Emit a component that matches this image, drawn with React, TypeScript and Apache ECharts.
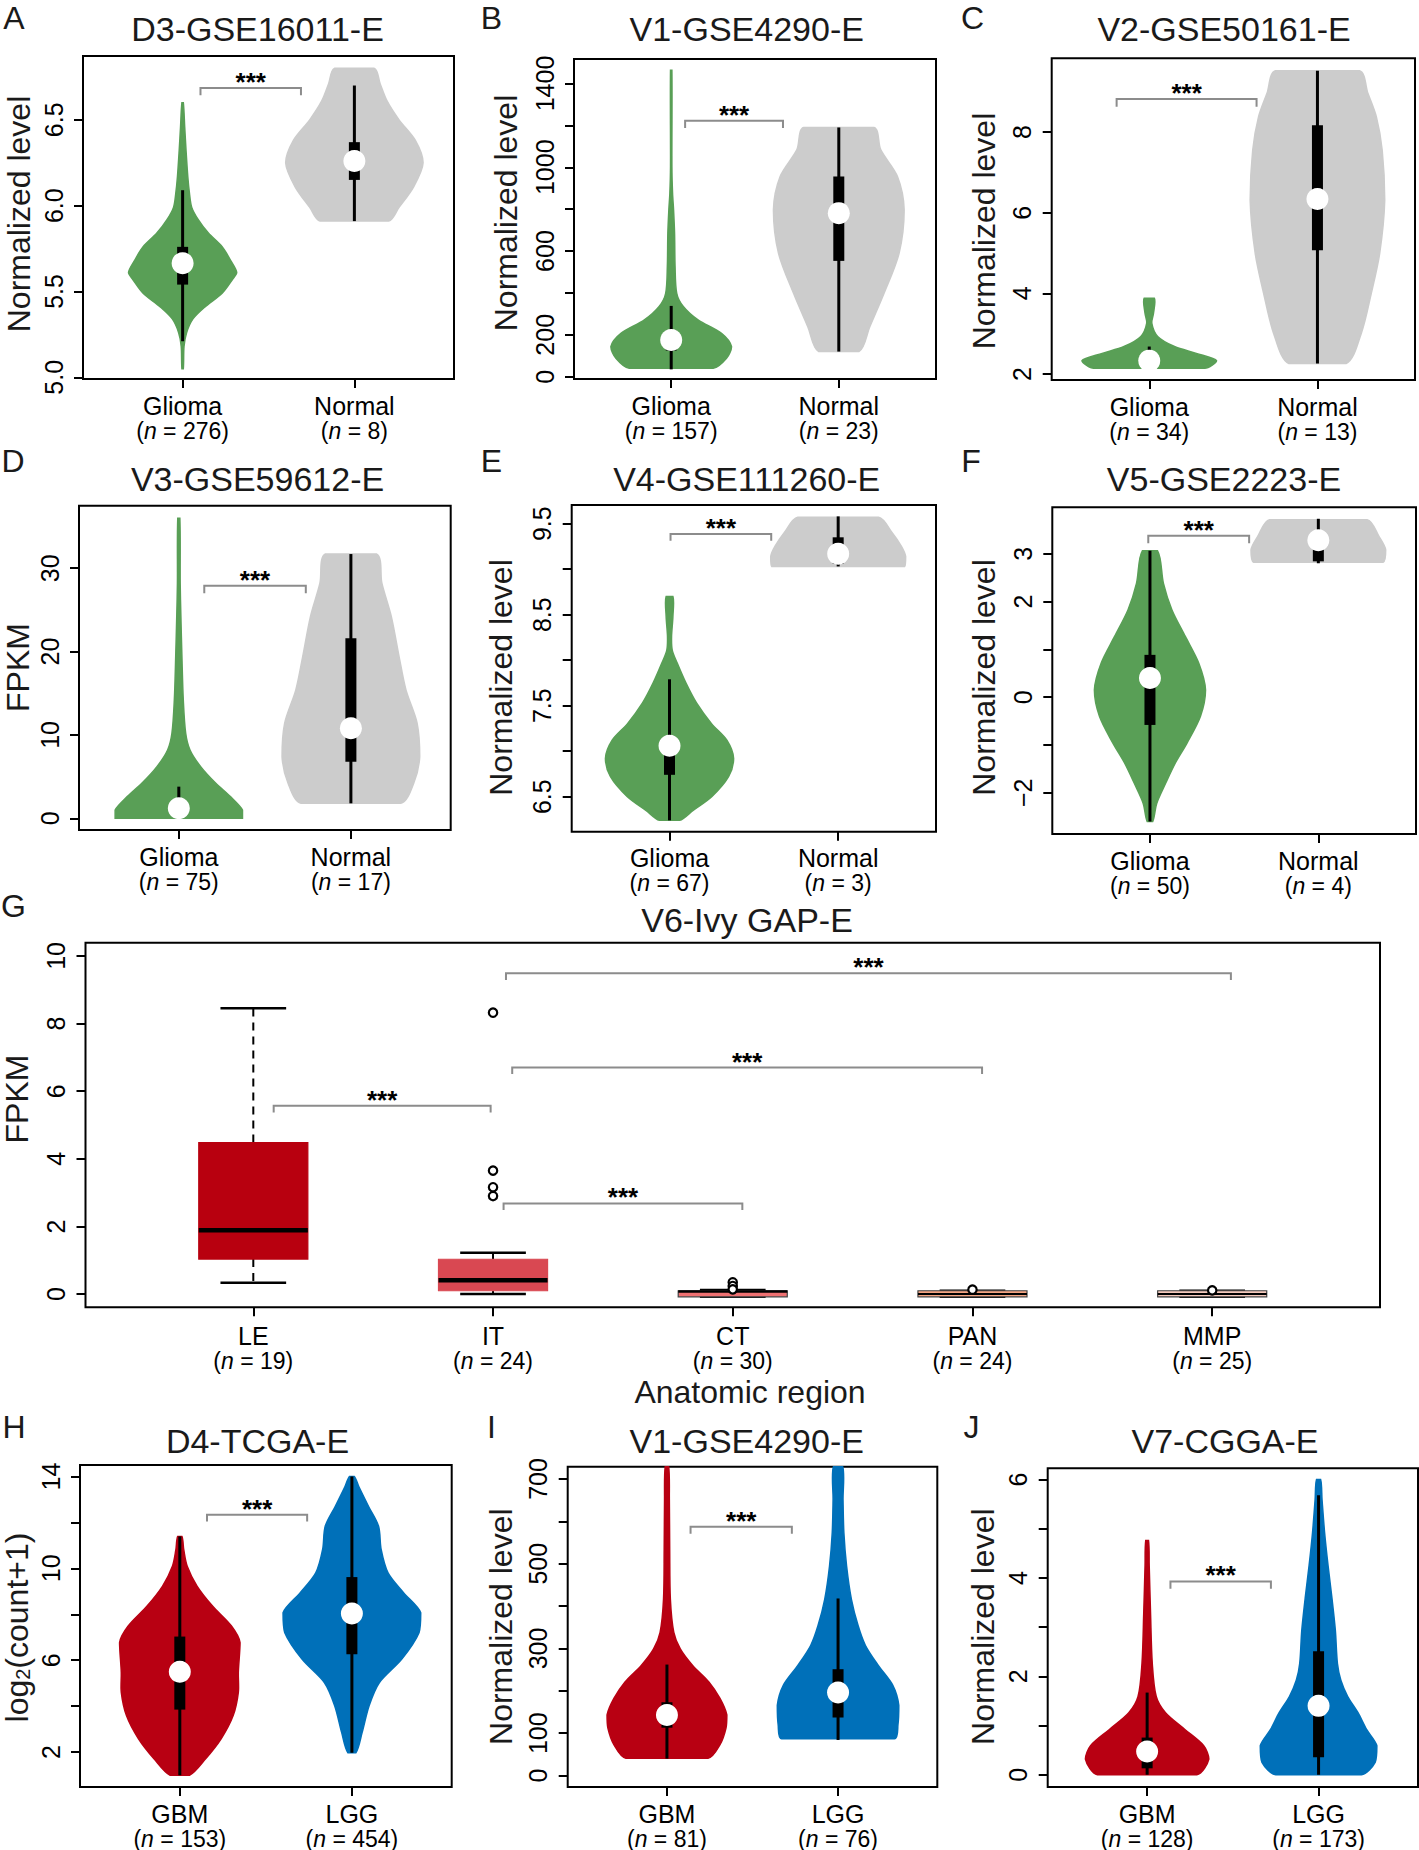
import React, { useEffect, useRef } from "react";
import * as echarts from "echarts";

const FONT = "'Liberation Sans', Arial, Helvetica, sans-serif";

// ---------------- categories ----------------
const gliomaNormal = ["Glioma", "Normal"];
const gbmLgg = ["GBM", "LGG"];
const regionsG = ["LE", "IT", "CT", "PAN", "MMP"];

// ---------------- panel A : D3-GSE16011-E ----------------
const nA = [276, 8];
// violin profiles: [value, half-width in category units]
const violinA_glioma = [[5.05, 0.004], [5.18, 0.008], [5.26, 0.023], [5.34, 0.06], [5.41, 0.13], [5.49, 0.23], [5.57, 0.29], [5.61, 0.315], [5.68, 0.28], [5.76, 0.23], [5.84, 0.15], [5.92, 0.09], [5.99, 0.053], [6.07, 0.04], [6.17, 0.03], [6.32, 0.02], [6.46, 0.012], [6.6, 0.004]];
const violinA_normal = [[5.91, 0.2], [5.99, 0.26], [6.11, 0.345], [6.25, 0.4], [6.38, 0.355], [6.5, 0.26], [6.61, 0.19], [6.71, 0.15], [6.8, 0.116]];
// [whisker low, q1, median, q3, whisker high]
const boxA = [[5.21, 5.54, 5.665, 5.76, 6.09], [5.91, 6.15, 6.26, 6.37, 6.7]];
const sigA = [1.104, 1.689, 6.686, 6.643];
const yRangeA = [4.99, 6.872];
const yTicksA = [5.0, 5.5, 6.0, 6.5];
const yLabelsA = [5.0, 5.5, 6.0, 6.5];

// ---------------- panel B : V1-GSE4290-E ----------------
const nB = [157, 23];
const violinB_glioma = [[40, 0.25], [88, 0.33], [143, 0.36], [207, 0.3], [271, 0.16], [335, 0.072], [398, 0.033], [526, 0.023], [685, 0.02], [797, 0.014], [876, 0.008], [1004, 0.004], [1463, 0.004]];
const violinB_normal = [[120, 0.12], [239, 0.185], [398, 0.27], [590, 0.36], [797, 0.39], [956, 0.35], [1084, 0.25], [1190, 0.21]];
const boxB = [[35, 125, 175, 220, 338], [120, 553, 781, 956, 1190]];
const sigB = [1.083, 1.667, 1222, 1187];
const yRangeB = [-11, 1517];
const yTicksB = [0, 200, 400, 600, 800, 1000, 1200, 1400];
const yLabelsB = [0, 200, 600, 1000, 1400];

// ---------------- panel C : V2-GSE50161-E ----------------
const nC = [34, 13];
const violinC_glioma = [[2.14, 0.33], [2.33, 0.4], [2.51, 0.28], [2.68, 0.15], [2.93, 0.05], [3.26, 0.015], [3.5, 0.025], [3.88, 0.03]];
const violinC_normal = [[2.26, 0.17], [3.0, 0.26], [4.0, 0.32], [4.99, 0.37], [6.31, 0.4], [7.55, 0.385], [8.38, 0.35], [8.96, 0.3], [9.52, 0.25]];
const boxC = [[2.14, 2.22, 2.33, 2.45, 2.68], [2.26, 5.07, 6.34, 8.17, 9.52]];
const sigC = [0.806, 1.638, 8.82, 8.63];
const yRangeC = [1.85, 9.83];
const yTicksC = [2, 4, 6, 8];
const yLabelsC = [2, 4, 6, 8];

// ---------------- panel D : V3-GSE59612-E ----------------
const nD = [75, 17];
const violinD_glioma = [[0, 0.37], [1, 0.37], [2.6, 0.3], [4.2, 0.215], [6.2, 0.127], [8.2, 0.065], [10.2, 0.04], [14.2, 0.026], [19.4, 0.018], [24.2, 0.012], [28.2, 0.008], [36, 0.006]];
const violinD_normal = [[1.8, 0.29], [4.2, 0.365], [7.4, 0.4], [11.4, 0.385], [15.4, 0.32], [19.4, 0.28], [24.2, 0.235], [28.2, 0.18], [31.7, 0.15]];
const boxD = [[0, 0.5, 1.2, 2.2, 3.8], [1.8, 6.8, 10.8, 21.6, 31.7]];
const sigD = [1.148, 1.738, 27.9, 27.0];
const yRangeD = [-1.4, 37.5];
const yTicksD = [0, 10, 20, 30];
const yLabelsD = [0, 10, 20, 30];

// ---------------- panel E : V4-GSE111260-E ----------------
const nE = [67, 3];
const violinE_glioma = [[6.24, 0.06], [6.35, 0.14], [6.5, 0.25], [6.72, 0.35], [6.92, 0.38], [7.12, 0.34], [7.3, 0.25], [7.53, 0.16], [7.75, 0.097], [7.97, 0.045], [8.11, 0.016], [8.26, 0.012], [8.48, 0.02], [8.7, 0.02]];
const violinE_normal = [[9.03, 0.395], [9.14, 0.4], [9.25, 0.375], [9.4, 0.32], [9.57, 0.24]];
const boxE = [[6.24, 6.74, 7.06, 7.16, 7.79], [9.03, 9.06, 9.17, 9.35, 9.58]];
const sigE = [1.006, 1.603, 9.386, 9.313];
const yRangeE = [6.115, 9.705];
const yTicksE = [6.5, 7.0, 7.5, 8.0, 8.5, 9.0, 9.5];
const yLabelsE = [6.5, 7.5, 8.5, 9.5];

// ---------------- panel F : V5-GSE2223-E ----------------
const nF = [50, 4];
const violinF_glioma = [[-2.6, 0.016], [-2.22, 0.04], [-1.8, 0.093], [-1.38, 0.15], [-0.96, 0.22], [-0.4, 0.3], [0.15, 0.33], [0.71, 0.29], [1.27, 0.21], [1.83, 0.13], [2.38, 0.08], [3.06, 0.045]];
const violinF_normal = [[2.82, 0.385], [3.08, 0.4], [3.36, 0.36], [3.71, 0.29]];
const boxF = [[-2.6, -0.58, 0.4, 0.885, 3.06], [2.8, 2.84, 3.28, 3.46, 3.73]];
const sigF = [0.99, 1.589, 3.373, 3.22];
const yRangeF = [-2.86, 3.97];
const yTicksF = [-2, -1, 0, 1, 2, 3];
const yLabelsF = [-2, 0, 2, 3];

// ---------------- panel H : D4-TCGA-E ----------------
const nH = [153, 454];
const violinH_gbm = [[0.99, 0.056], [1.71, 0.15], [2.58, 0.24], [3.59, 0.31], [4.6, 0.34], [5.47, 0.34], [6.77, 0.35], [7.49, 0.3], [8.36, 0.19], [9.23, 0.1], [10.09, 0.043], [10.8, 0.023], [11.39, 0.012]];
const violinH_lgg = [[1.97, 0.023], [2.87, 0.06], [4.02, 0.1], [5.03, 0.16], [6.05, 0.29], [7.2, 0.39], [8.07, 0.4], [8.94, 0.3], [9.8, 0.21], [10.82, 0.17], [11.83, 0.155], [12.69, 0.097], [13.56, 0.04], [14.0, 0.014]];
const boxH = [[0.99, 3.85, 5.5, 7.03, 11.39], [1.97, 6.26, 8.03, 9.62, 14.0]];
const sigH = [1.158, 1.74, 12.33, 12.04];
const yRangeH = [0.48, 14.5];
const yTicksH = [2, 4, 6, 8, 10, 12, 14];
const yLabelsH = [2, 6, 10, 14];

// ---------------- panel I : V1-GSE4290-E ----------------
const nI = [81, 76];
const violinI_gbm = [[41, 0.24], [73, 0.31], [112, 0.345], [143, 0.35], [182, 0.31], [221, 0.245], [260, 0.15], [299, 0.078], [338, 0.04], [416, 0.02], [534, 0.016], [651, 0.014], [729, 0.01]];
const violinI_lgg = [[87, 0.33], [120, 0.35], [166, 0.355], [213, 0.32], [260, 0.235], [307, 0.16], [354, 0.117], [416, 0.078], [494, 0.05], [573, 0.034], [651, 0.029], [729, 0.027]];
const boxI = [[40, 113, 143, 173, 262], [84, 137, 196, 251, 418]];
const sigI = [1.138, 1.73, 587, 571];
const yRangeI = [-27, 729];
const yTicksI = [0, 100, 200, 300, 400, 500, 600, 700];
const yLabelsI = [0, 100, 300, 500, 700];

// ---------------- panel J : V7-CGGA-E ----------------
const nJ = [128, 173];
const violinJ_gbm = [[0, 0.29], [0.32, 0.36], [0.59, 0.33], [0.92, 0.22], [1.26, 0.107], [1.59, 0.053], [2.26, 0.03], [3.26, 0.02], [4.26, 0.012], [4.76, 0.008]];
const violinJ_lgg = [[0, 0.25], [0.25, 0.33], [0.59, 0.34], [0.92, 0.28], [1.26, 0.23], [1.59, 0.17], [1.92, 0.13], [2.26, 0.11], [2.93, 0.098], [3.59, 0.078], [4.26, 0.055], [4.93, 0.035], [5.6, 0.02], [6.0, 0.012]];
const boxJ = [[0, 0.13, 0.47, 0.755, 1.67], [0, 0.354, 1.4, 2.51, 5.68]];
const sigJ = [1.136, 1.722, 3.93, 3.78];
const yRangeJ = [-0.25, 6.23];
const yTicksJ = [0, 1, 2, 3, 4, 5, 6];
const yLabelsJ = [0, 2, 4, 6];

// ---------------- panel G : V6-Ivy GAP-E (boxplot) ----------------
const nG = [19, 24, 30, 24, 25];
const boxG = [
  [0.335, 1.035, 1.89, 4.48, 8.45],
  [0.0, 0.1, 0.41, 1.03, 1.22],
  [-0.08, -0.08, 0.08, 0.1, 0.12],
  [-0.08, -0.08, 0.0, 0.1, 0.1],
  [-0.08, -0.08, 0.0, 0.1, 0.1],
];
const outliersG = [[], [8.32, 3.65, 3.16, 2.9], [0.35, 0.24, 0.14], [0.13], [0.11]];
const sigG = [
  [1.085, 1.99, 5.57, 5.37],
  [2.044, 3.04, 2.68, 2.49],
  [2.08, 4.04, 6.7, 6.51],
  [2.054, 5.078, 9.49, 9.29],
];
const yRangeG = [-0.39, 10.39];
const yTicksG = [0, 2, 4, 6, 8, 10];
const yLabelsG = [0, 2, 4, 6, 8, 10];

// ---------------- styles / layout ----------------
const GREEN = "#599f56";
const GRAY = "#cccccc";
const RED = "#b80012";
const BLUE = "#0070b9";
const G_FILL = ["#b8000f", "#d94852", "#ef7172", "#f4a583", "#f5cabd"];
const G_BORDER = ["#b8000f", "#d94852", "#444444", "#444444", "#444444"];
const G_MEDW = [4.5, 4.5, 2.5, 2, 2];

type Panel = {
  key: string; title: string; cats: string[]; ns: number[]; violins: number[][][];
  boxes: number[][]; sig: number[]; yRange: number[]; yTicks: number[]; yLabels: number[];
  ylab: string; decimals: number;
};

const violinPanels: Panel[] = [
  { key: "A", title: "D3-GSE16011-E", cats: gliomaNormal, ns: nA, violins: [violinA_glioma, violinA_normal], boxes: boxA, sig: sigA, yRange: yRangeA, yTicks: yTicksA, yLabels: yLabelsA, ylab: "Normalized level", decimals: 1 },
  { key: "B", title: "V1-GSE4290-E", cats: gliomaNormal, ns: nB, violins: [violinB_glioma, violinB_normal], boxes: boxB, sig: sigB, yRange: yRangeB, yTicks: yTicksB, yLabels: yLabelsB, ylab: "Normalized level", decimals: 0 },
  { key: "C", title: "V2-GSE50161-E", cats: gliomaNormal, ns: nC, violins: [violinC_glioma, violinC_normal], boxes: boxC, sig: sigC, yRange: yRangeC, yTicks: yTicksC, yLabels: yLabelsC, ylab: "Normalized level", decimals: 0 },
  { key: "D", title: "V3-GSE59612-E", cats: gliomaNormal, ns: nD, violins: [violinD_glioma, violinD_normal], boxes: boxD, sig: sigD, yRange: yRangeD, yTicks: yTicksD, yLabels: yLabelsD, ylab: "FPKM", decimals: 0 },
  { key: "E", title: "V4-GSE111260-E", cats: gliomaNormal, ns: nE, violins: [violinE_glioma, violinE_normal], boxes: boxE, sig: sigE, yRange: yRangeE, yTicks: yTicksE, yLabels: yLabelsE, ylab: "Normalized level", decimals: 1 },
  { key: "F", title: "V5-GSE2223-E", cats: gliomaNormal, ns: nF, violins: [violinF_glioma, violinF_normal], boxes: boxF, sig: sigF, yRange: yRangeF, yTicks: yTicksF, yLabels: yLabelsF, ylab: "Normalized level", decimals: 0 },
  { key: "H", title: "D4-TCGA-E", cats: gbmLgg, ns: nH, violins: [violinH_gbm, violinH_lgg], boxes: boxH, sig: sigH, yRange: yRangeH, yTicks: yTicksH, yLabels: yLabelsH, ylab: "LOG2", decimals: 0 },
  { key: "I", title: "V1-GSE4290-E", cats: gbmLgg, ns: nI, violins: [violinI_gbm, violinI_lgg], boxes: boxI, sig: sigI, yRange: yRangeI, yTicks: yTicksI, yLabels: yLabelsI, ylab: "Normalized level", decimals: 0 },
  { key: "J", title: "V7-CGGA-E", cats: gbmLgg, ns: nJ, violins: [violinJ_gbm, violinJ_lgg], boxes: boxJ, sig: sigJ, yRange: yRangeJ, yTicks: yTicksJ, yLabels: yLabelsJ, ylab: "Normalized level", decimals: 0 },
];

const LAYOUT: Record<string, any> = {
  A: { grid: [83, 56, 371, 323], title: [257.5, 29], letter: [14, 17.5], ylab: [19, 214], colors: [GREEN, GRAY] },
  B: { grid: [574, 59, 362, 320], title: [746.7, 29], letter: [491.5, 17.5], ylab: [505.8, 213], colors: [GREEN, GRAY] },
  C: { grid: [1051.7, 58.3, 363.3, 321.7], title: [1224, 29], letter: [972.5, 18], ylab: [984, 231], colors: [GREEN, GRAY] },
  D: { grid: [79, 505.7, 371.7, 324.3], title: [257.5, 479], letter: [13, 460.5], ylab: [18.3, 667.5], colors: [GREEN, GRAY] },
  E: { grid: [571.7, 505, 364.3, 326.7], title: [746.7, 479], letter: [491.5, 460.5], ylab: [500.8, 677.5], colors: [GREEN, GRAY] },
  F: { grid: [1052.3, 507.3, 363.7, 326.7], title: [1224, 479], letter: [971, 460.5], ylab: [984, 677.5], colors: [GREEN, GRAY] },
  H: { grid: [80, 1465, 371.7, 323.3], title: [257.5, 1440.5], letter: [14, 1427], ylab: [17, 1627.5], colors: [RED, BLUE] },
  I: { grid: [567.7, 1466.7, 369.6, 322.6], title: [746.7, 1440.5], letter: [491.5, 1427], ylab: [500.8, 1626.7], colors: [RED, BLUE] },
  J: { grid: [1047.7, 1468.3, 370.3, 323.4], title: [1225, 1440.5], letter: [971.5, 1427], ylab: [983, 1626.7], colors: [RED, BLUE] },
  G: { grid: [85.5, 942.7, 1294.5, 364.6], title: [747, 919.5], letter: [13.5, 906], ylab: [17, 1099], xname: [750, 1392] },
};

const BOX_HW = 0.2275;
const CAP_HW = 0.137;

const xRich = {
  c: { fontSize: 25, lineHeight: 25, fontFamily: FONT, color: "#000" },
  p: { fontSize: 23, lineHeight: 25, fontFamily: FONT, color: "#000" },
  i: { fontSize: 23, lineHeight: 25, fontFamily: FONT, color: "#000", fontStyle: "italic" },
};

function fmtNum(v: number, d: number) {
  const s = Math.abs(v).toFixed(d);
  return v < 0 ? "\u2212" + s : s;
}

function makeGrid(g: number[]) {
  return { left: g[0], top: g[1], width: g[2], height: g[3], show: true, borderColor: "#000", borderWidth: 2, backgroundColor: "transparent", containLabel: false };
}

function makeXAxis(idx: number, range: number[], cats: string[], ns: number[], margin: number) {
  const vals = cats.map((_, i) => i + 1);
  return {
    type: "value", gridIndex: idx, min: range[0], max: range[1], position: "bottom",
    axisLine: { show: false, onZero: false }, splitLine: { show: false },
    axisTick: { show: true, customValues: vals, length: 9, lineStyle: { color: "#000", width: 2 } },
    axisLabel: {
      show: true, customValues: vals, margin, rich: xRich,
      formatter: (v: number) => {
        const i = Math.round(v) - 1;
        return `{c|${cats[i]}}\n{p|(}{i|n}{p| = ${ns[i]})}`;
      },
    },
  };
}

function makeYAxis(idx: number, range: number[], ticks: number[], labels: number[], decimals: number) {
  return {
    type: "value", gridIndex: idx, min: range[0], max: range[1], position: "left",
    axisLine: { show: false, onZero: false }, splitLine: { show: false },
    axisTick: { show: true, customValues: ticks, length: 9, lineStyle: { color: "#000", width: 2 } },
    axisLabel: {
      show: true, customValues: labels, rotate: 90, margin: 17, fontSize: 25, fontFamily: FONT, color: "#000",
      formatter: (v: number) => fmtNum(v, decimals),
    },
  };
}

const bracketRender = (params: any, api: any) => {
  const x1 = api.value(0), x2 = api.value(1), yt = api.value(2), yl = api.value(3);
  const a = api.coord([x1, yl]), b = api.coord([x1, yt]), c = api.coord([x2, yt]), d = api.coord([x2, yl]);
  return {
    type: "group",
    children: [
      { type: "polyline", shape: { points: [a, b, c, d] }, style: { stroke: "#8c8c8c", lineWidth: 2, fill: null } },
      { type: "text", x: (b[0] + c[0]) / 2, y: b[1] - 6, style: { text: "***", fontSize: 26, fontWeight: "bold", fontFamily: FONT, fill: "#000", align: "center", verticalAlign: "middle" } },
    ],
  };
};

function violinRender(p: Panel, colors: string[]) {
  return (params: any, api: any) => {
    const i = params.dataIndex;
    const x = api.value(0);
    const prof = p.violins[i];
    const pts: number[][] = [];
    for (const [v, w] of prof) pts.push(api.coord([x + w, v]));
    for (let k = prof.length - 1; k >= 0; k--) pts.push(api.coord([x - prof[k][1], prof[k][0]]));
    let minX = Infinity, minY = Infinity, maxX = -Infinity, maxY = -Infinity;
    for (const q of pts) {
      minX = Math.min(minX, q[0]); maxX = Math.max(maxX, q[0]);
      minY = Math.min(minY, q[1]); maxY = Math.max(maxY, q[1]);
    }
    const b = p.boxes[i];
    const cx = api.coord([x, b[2]])[0];
    const yLo = api.coord([x, b[0]])[1];
    const yQ1 = api.coord([x, b[1]])[1];
    const yMed = api.coord([x, b[2]])[1];
    const yQ3 = api.coord([x, b[3]])[1];
    const yHi = api.coord([x, b[4]])[1];
    return {
      type: "group",
      children: [
        { type: "polygon", shape: { points: pts, smooth: 0.3, smoothConstraint: [[minX, minY], [maxX, maxY]] }, style: { fill: colors[i], stroke: colors[i], lineWidth: 1.5 } },
        { type: "line", shape: { x1: cx, y1: yLo, x2: cx, y2: yHi }, style: { stroke: "#000", lineWidth: 3 } },
        { type: "rect", shape: { x: cx - 5.5, y: yQ3, width: 11, height: yQ1 - yQ3 }, style: { fill: "#000" } },
        { type: "circle", shape: { cx, cy: yMed, r: 11 }, style: { fill: "#fff" } },
      ],
    };
  };
}

const boxGRender = (params: any, api: any) => {
  const i = params.dataIndex;
  const x = api.value(0);
  const b = boxG[i];
  const cx = api.coord([x, 0])[0];
  const xl = api.coord([x - BOX_HW, 0])[0];
  const xr = api.coord([x + BOX_HW, 0])[0];
  const cl = api.coord([x - CAP_HW, 0])[0];
  const cr = api.coord([x + CAP_HW, 0])[0];
  const y = b.map((v: number) => api.coord([x, v])[1]);
  const dash = { stroke: "#000", lineWidth: 2, lineDash: [8, 6] };
  const children: any[] = [
    { type: "line", shape: { x1: cx, y1: y[3], x2: cx, y2: y[4] }, style: dash },
    { type: "line", shape: { x1: cx, y1: y[1], x2: cx, y2: y[0] }, style: dash },
    { type: "line", shape: { x1: cl, y1: y[4], x2: cr, y2: y[4] }, style: { stroke: "#000", lineWidth: 2.5 } },
    { type: "line", shape: { x1: cl, y1: y[0], x2: cr, y2: y[0] }, style: { stroke: "#000", lineWidth: 2.5 } },
    { type: "rect", shape: { x: xl, y: y[3], width: xr - xl, height: y[1] - y[3] }, style: { fill: G_FILL[i], stroke: G_BORDER[i], lineWidth: 1.2 } },
    { type: "line", shape: { x1: xl, y1: y[2], x2: xr, y2: y[2] }, style: { stroke: "#000", lineWidth: G_MEDW[i] } },
  ];
  for (const o of outliersG[i]) {
    const pt = api.coord([x, o]);
    children.push({ type: "circle", shape: { cx: pt[0], cy: pt[1], r: 4.2 }, style: { fill: "#fff", stroke: "#000", lineWidth: 2.2 } });
  }
  return { type: "group", children };
};

function textEl(text: string, pos: number[], fontSize: number, extra: any = {}) {
  return {
    type: "text", x: pos[0], y: pos[1], z: 100, ...extra,
    style: { text, fontSize, fontFamily: FONT, fill: "#1a1a1a", align: "center", verticalAlign: "middle", ...(extra.style || {}) },
  };
}

function buildOption() {
  const grid: any[] = [], xAxis: any[] = [], yAxis: any[] = [], series: any[] = [], graphic: any[] = [];

  violinPanels.forEach((p, idx) => {
    const L = LAYOUT[p.key];
    grid.push(makeGrid(L.grid));
    xAxis.push(makeXAxis(idx, [0.42, 2.58], p.cats, p.ns, 14));
    yAxis.push(makeYAxis(idx, p.yRange, p.yTicks, p.yLabels, p.decimals));
    series.push({
      type: "custom", xAxisIndex: idx, yAxisIndex: idx, z: 2,
      data: p.boxes.map((b, i) => [i + 1, b[2]]), encode: { x: 0, y: 1 },
      renderItem: violinRender(p, L.colors),
    });
    series.push({
      type: "custom", xAxisIndex: idx, yAxisIndex: idx, z: 3,
      data: [p.sig], encode: { x: [0, 1], y: [2, 3] }, renderItem: bracketRender,
    });
    graphic.push(textEl(p.title, L.title, 34));
    graphic.push(textEl(p.key, L.letter, 32));
    if (p.ylab === "LOG2") {
      graphic.push({
        type: "text", x: L.ylab[0], y: L.ylab[1], rotation: Math.PI / 2, z: 100,
        style: {
          text: "{a|log}{s|2}{a|(count+1)}", align: "center", verticalAlign: "middle", fill: "#1a1a1a",
          rich: {
            a: { fontSize: 32, fontFamily: FONT, fill: "#1a1a1a", lineHeight: 32 },
            s: { fontSize: 20, fontFamily: FONT, fill: "#1a1a1a", lineHeight: 10, verticalAlign: "bottom" },
          },
        },
      });
    } else {
      graphic.push(textEl(p.ylab, L.ylab, 32, { rotation: Math.PI / 2 }));
    }
  });

  // panel G
  const gi = violinPanels.length;
  const LG = LAYOUT.G;
  grid.push(makeGrid(LG.grid));
  xAxis.push(makeXAxis(gi, [0.3, 5.7], regionsG, nG, 16));
  yAxis.push(makeYAxis(gi, yRangeG, yTicksG, yLabelsG, 0));
  series.push({
    type: "custom", xAxisIndex: gi, yAxisIndex: gi, z: 2,
    data: boxG.map((b, i) => [i + 1, b[2]]), encode: { x: 0, y: 1 }, renderItem: boxGRender,
  });
  series.push({
    type: "custom", xAxisIndex: gi, yAxisIndex: gi, z: 3,
    data: sigG, encode: { x: [0, 1], y: [2, 3] }, renderItem: bracketRender,
  });
  graphic.push(textEl("V6-Ivy GAP-E", LG.title, 34));
  graphic.push(textEl("G", LG.letter, 32));
  graphic.push(textEl("FPKM", LG.ylab, 32, { rotation: Math.PI / 2 }));
  graphic.push(textEl("Anatomic region", LG.xname, 32));

  return {
    animation: false,
    backgroundColor: "#ffffff",
    textStyle: { fontFamily: FONT },
    grid, xAxis, yAxis, series, graphic,
  };
}

export default function App() {
  const ref = useRef<HTMLDivElement>(null);
  useEffect(() => {
    document.body.style.margin = "0";
    if (!ref.current) return;
    const chart = echarts.init(ref.current, undefined, { renderer: "svg" });
    chart.setOption(buildOption() as any);
    return () => chart.dispose();
  }, []);
  return <div ref={ref} style={{ width: 1419, height: 1850 }} />;
}
